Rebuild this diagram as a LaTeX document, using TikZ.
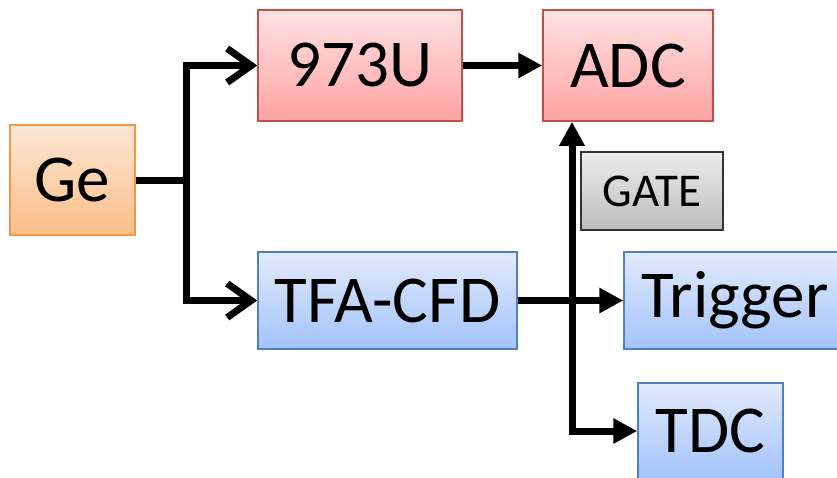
\documentclass[tikz,border=0pt]{standalone}
\usepackage{fontspec}
\setmainfont{Carlito}
\usetikzlibrary{arrows.meta}
\definecolor{orT}{RGB}{253,231,214}
\definecolor{orB}{RGB}{251,190,134}
\definecolor{orD}{RGB}{247,150,70}
\definecolor{rdT}{RGB}{255,226,226}
\definecolor{rdB}{RGB}{255,163,163}
\definecolor{rdD}{RGB}{192,80,77}
\definecolor{blT}{RGB}{226,234,252}
\definecolor{blB}{RGB}{163,195,250}
\definecolor{blD}{RGB}{79,129,189}
\definecolor{gyT}{RGB}{236,236,236}
\definecolor{gyB}{RGB}{188,188,188}
\tikzset{
  box/.style={rectangle, inner sep=0pt, line width=1.5pt, font=\fontsize{67}{75}\selectfont},
  orbox/.style={box, draw=orD, top color=orT, bottom color=orB},
  rdbox/.style={box, draw=rdD, top color=rdT, bottom color=rdB},
  blbox/.style={box, draw=blD, top color=blT, bottom color=blB},
  gybox/.style={box, draw=black!80, top color=gyT, bottom color=gyB, font=\fontsize{47}{52}\selectfont},
  wire/.style={line width=7pt},
  openarr/.style={wire, -{Straight Barb[length=24pt,width=34pt,line width=7pt]}},
  fillarr/.style={wire, -{Triangle[length=24pt,width=24pt]}}
}
\begin{document}
\begin{tikzpicture}[x=1pt,y=-1pt]
\useasboundingbox (0,0) rectangle (837,477);
\node[orbox, minimum width=125pt, minimum height=110pt] (ge) at (72.5,180) {Ge};
\node[rdbox, minimum width=204pt, minimum height=111pt] (u973) at (360,65.5) {973U};
\node[rdbox, minimum width=170pt, minimum height=111pt] (adc) at (628,65.5) {ADC};
\node[blbox, minimum width=259pt, minimum height=97pt] (tfa) at (387.5,300.5) {TFA-CFD};
\node[blbox, minimum width=222pt, minimum height=97pt] (trig) at (735,300.5) {Trigger};
\node[blbox, minimum width=145pt, minimum height=96pt] (tdc) at (710.5,431) {TDC};
\node[gybox, minimum width=142pt, minimum height=78pt] (gate) at (652,191) {GATE};
\coordinate (j1) at (186,180);
\coordinate (j2) at (572,300.5);
\draw[wire] (ge.east) -- (j1);
\draw[openarr] (j1) |- (u973.west);
\draw[openarr] (j1) |- (tfa.west);
\draw[fillarr] (u973.east) -- (adc.west);
\draw[fillarr] (tfa.east) -- (trig.west);
\draw[fillarr] (j2) -- (j2 |- adc.south);
\draw[fillarr] (j2) |- (tdc.west);
\end{tikzpicture}
\end{document}
